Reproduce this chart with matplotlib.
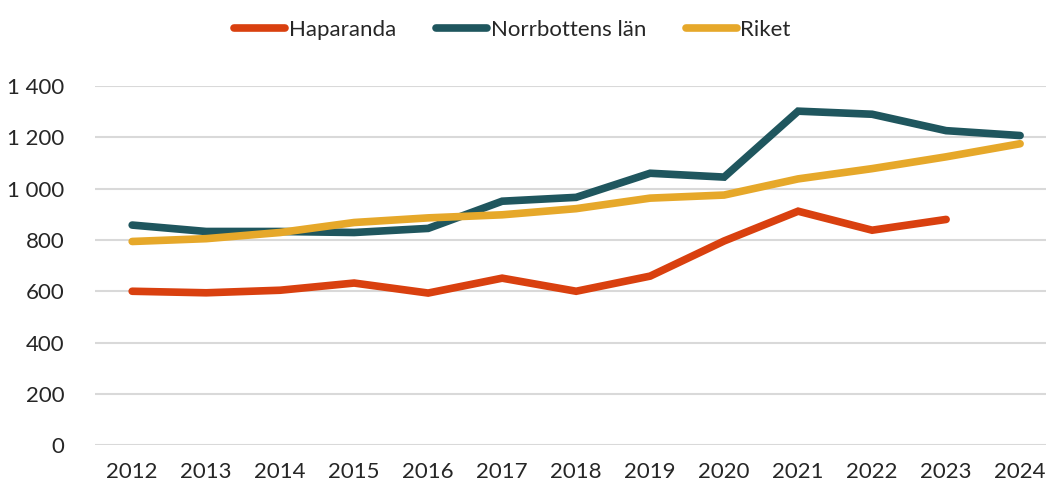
import matplotlib.pyplot as plt
from matplotlib.ticker import FuncFormatter

years = ["2012", "2013", "2014", "2015", "2016", "2017", "2018",
         "2019", "2020", "2021", "2022", "2023", "2024"]
haparanda = [600, 594, 604, 632, 593, 651, 600, 659, 796, 912, 838, 880]
norrbotten = [858, 833, 833, 829, 845, 951, 966, 1060, 1045, 1302, 1290, 1226, 1207]
riket = [794, 805, 829, 868, 886, 898, 922, 963, 975, 1038, 1078, 1124, 1175]

plt.rcParams['font.family'] = ['Lato', 'DejaVu Sans']
plt.rcParams['font.weight'] = 'normal'
plt.rcParams['text.color'] = '#262626'

fig = plt.figure(figsize=(10.46, 4.86), dpi=100)
ax = fig.add_axes([0.091, 0.084, 0.909, 0.739])

x = range(len(years))
ax.plot(range(len(haparanda)), haparanda, color='#D9400F', lw=5.5,
        solid_capstyle='round', solid_joinstyle='miter', label='Haparanda', clip_on=False)
ax.plot(x, norrbotten, color='#1F565E', lw=5.5,
        solid_capstyle='round', solid_joinstyle='miter', label='Norrbottens län', clip_on=False)
ax.plot(x, riket, color='#E6A82A', lw=5.5,
        solid_capstyle='round', solid_joinstyle='miter', label='Riket', clip_on=False)

ax.set_ylim(0, 1400)
ax.set_yticks(range(0, 1401, 200))
ax.yaxis.set_major_formatter(FuncFormatter(lambda v, p: f"{int(v):,}".replace(",", " ")))
ax.set_xlim(-0.5, 12.35)
ax.set_xticks(list(x))
ax.set_xticklabels(years)
ax.grid(axis='y', color='#d9d9d9', lw=1.5)
ax.set_axisbelow(True)
for s in ax.spines.values():
    s.set_visible(False)
ax.tick_params(length=0, labelsize=16, labelcolor='#262626')
ax.tick_params(axis='y', pad=22)
ax.tick_params(axis='x', pad=12)

fig.legend(loc='upper center', bbox_to_anchor=(0.49, 1.0), ncol=3, frameon=False,
           fontsize=16, handlelength=2.3, handletextpad=0.15, columnspacing=1.8)

fig.savefig('out.png', dpi=100)
